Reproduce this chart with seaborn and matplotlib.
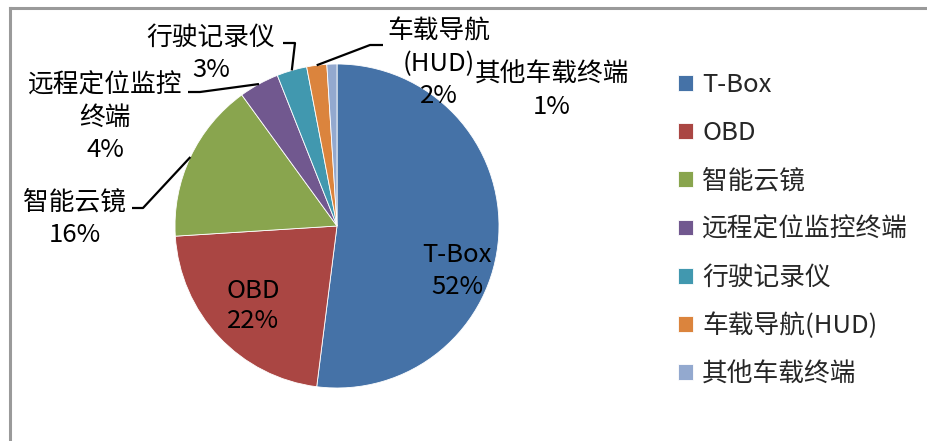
import matplotlib
matplotlib.use("Agg")
import matplotlib.pyplot as plt
import seaborn as sns
import numpy as np
from matplotlib.lines import Line2D

sns.set_theme(style="white")
plt.rcParams['font.family'] = ['Noto Sans CJK SC', 'DejaVu Sans']

categories = ["T-Box", "OBD", "智能云镜", "远程定位监控终端", "行驶记录仪", "车载导航(HUD)", "其他车载终端"]
values = [52, 22, 16, 4, 3, 2, 1]
pct_labels = ["52%", "22%", "16%", "4%", "3%", "2%", "1%"]
label_names = ["T-Box", "OBD", "智能云镜", "远程定位监控\n终端", "行驶记录仪", "车载导航\n(HUD)", "其他车载终端"]
colors = ["#4572A7", "#AA4643", "#89A54E", "#71588F", "#4198AF", "#DB843D", "#93A9CF"]

W, H = 927, 441
fig = plt.figure(figsize=(W / 100, H / 100), dpi=100)
fig.patch.set_facecolor("white")

# frame: only top and left edges are visible in the picture
fx, fy = 9.5 / W, 1 - 8 / H
fig.add_artist(Line2D([fx, 1.0], [fy, fy], transform=fig.transFigure,
                      color="#9a9a9a", linewidth=2.2, solid_capstyle="projecting"))
fig.add_artist(Line2D([fx, fx], [fy, 0.0], transform=fig.transFigure,
                      color="#9a9a9a", linewidth=2.2, solid_capstyle="projecting"))

cx, cy, R = 337, 226, 162
ax = fig.add_axes([(cx - R) / W, (H - cy - R) / H, 2 * R / W, 2 * R / H])
wedges, _ = ax.pie(values, colors=colors, startangle=90, counterclock=False,
                   wedgeprops=dict(edgecolor="white", linewidth=0.6))
ax.set_xlim(-1, 1)
ax.set_ylim(-1, 1)
ax.set_aspect("equal")
ax.axis("off")

def px(x, y):
    return ((x - cx) / R, (cy - y) / R)

fs = 18.5
# inside labels
for i, (x, y) in [(0, (457, 271)), (1, (253, 306))]:
    ax.text(*px(x, y), f"{label_names[i]}\n{pct_labels[i]}", ha="center", va="center",
            fontsize=fs, linespacing=1.25, color="black")

# outside labels
outside = {
    2: ((75, 219), [(132, 208), (143, 208)]),
    3: ((105, 118), [(188, 92), (200, 92)]),
    4: ((211, 54), [(283, 43), (295, 43)]),
    5: ((439, 64), [(383, 45), (370, 45)]),
    6: ((552, 91), None),
}
for i, ((x, y), pts) in outside.items():
    ax.text(*px(x, y), f"{label_names[i]}\n{pct_labels[i]}", ha="center", va="center",
            fontsize=fs, linespacing=1.3, color="black", clip_on=False)
    if pts is not None:
        w = wedges[i]
        mid = np.deg2rad((w.theta1 + w.theta2) / 2)
        ex, ey = np.cos(mid), np.sin(mid)
        xs = [px(*p)[0] for p in pts] + [ex]
        ys = [px(*p)[1] for p in pts] + [ey]
        ax.plot(xs, ys, color="black", linewidth=1.6, clip_on=False, solid_capstyle="butt")

leg = fig.legend(wedges, categories, loc="upper left", bbox_to_anchor=(668 / W, 1 - 62 / H),
                 frameon=False, fontsize=fs, handlelength=0.58, handleheight=0.58,
                 handletextpad=0.35, labelspacing=0.86, borderaxespad=0)

fig.savefig("out.png", dpi=100, facecolor="white")
